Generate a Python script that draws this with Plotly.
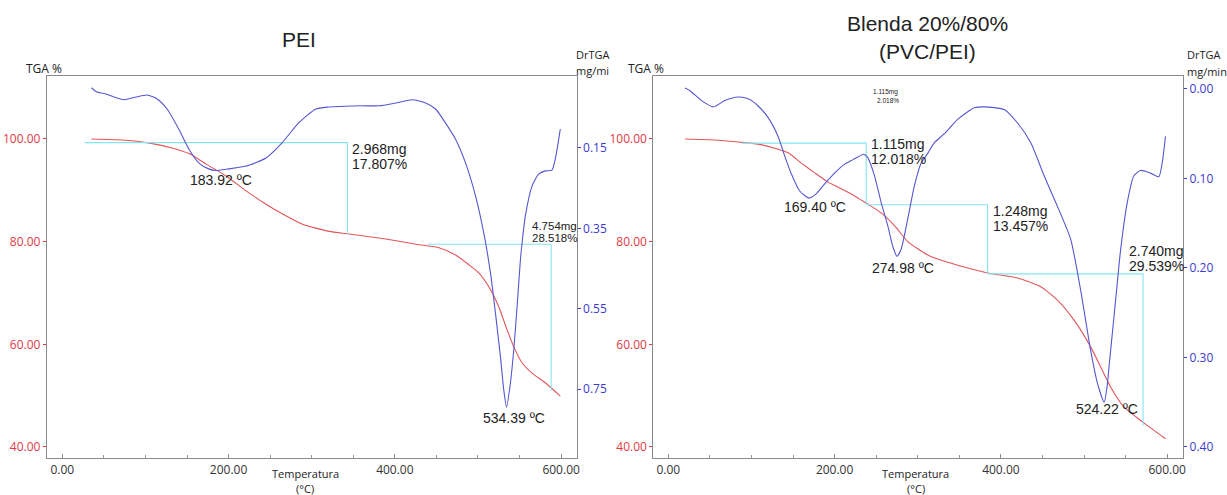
import plotly.graph_objects as go

W, H = 1227, 495

# ---------------- PEI ----------------
pei_tga_temp = [35, 73, 105, 133, 153, 173, 197, 221, 245, 265, 289, 321, 345, 389,
                429, 453, 473, 489, 501, 513, 525, 535, 543, 553, 565, 581, 599]
pei_tga = [100.0, 99.8, 99.2, 98.2, 97.1, 95.1, 92.8, 89.9, 87.3, 85.4, 83.4, 82.0, 81.5, 80.5,
           79.4, 78.8, 77.4, 75.5, 73.9, 71.2, 67.3, 62.8, 59.5, 56.4, 54.4, 52.5, 49.9]

pei_dtg_temp = [35, 41, 53, 74, 89, 102, 114, 126, 140, 152, 164, 176, 183.92, 200, 221, 245,
                264, 284, 305, 320, 340, 361, 381, 401, 421, 437, 449, 461, 473, 485, 497,
                507, 515, 521, 527, 531, 534.39, 539, 543, 547, 551, 553, 557, 565, 573, 581,
                589, 593, 599]
pei_dtg = [0.000, 0.010, 0.016, 0.030, 0.023, 0.018, 0.028, 0.053, 0.103, 0.152, 0.187, 0.202,
           0.206, 0.202, 0.195, 0.175, 0.138, 0.088, 0.053, 0.048, 0.046, 0.045, 0.045, 0.038,
           0.030, 0.038, 0.053, 0.088, 0.128, 0.187, 0.269, 0.362, 0.461, 0.561, 0.670, 0.752,
           0.795, 0.735, 0.653, 0.546, 0.429, 0.387, 0.319, 0.245, 0.215, 0.207, 0.205, 0.177,
           0.103]
pei_peaks = [183.92, 534.39]

# weight-loss steps: start temp, end temp, starting level (%), loss (%), loss (mg)
pei_step_start = [27, 440]
pei_step_end = [343, 588]
pei_step_level = [99.3, 79.5]
pei_step_loss = [17.807, 28.518]
pei_step_mg = [2.968, 4.754]

# ---------------- Blend 20/80 PVC/PEI ----------------
bl_tga_temp = [20, 56, 84, 108, 128, 144, 160, 176, 192, 208, 224, 240, 256, 272, 288, 300,
               312, 324, 348, 384, 420, 448, 468, 488, 508, 520, 532, 548, 572, 598]
bl_tga = [100.0, 99.8, 99.4, 99.0, 98.2, 97.3, 95.3, 93.4, 91.6, 90.3, 88.9, 87.3, 85.6, 83.1,
          80.0, 78.6, 77.4, 76.6, 75.4, 73.9, 72.9, 71.2, 68.6, 64.7, 59.5, 55.6, 51.7, 47.8,
          44.7, 41.6]

bl_dtg_temp = [20, 26, 40, 54, 68, 84, 96, 108, 120, 132, 140, 148, 158, 169.40, 178, 188, 200,
               212, 220, 228, 235, 240, 248, 256, 264, 270, 274.98, 280, 288, 296, 304, 312,
               320, 332, 348, 368, 380, 404, 420, 436, 452, 468, 484, 496, 508, 516, 524.22,
               528, 530, 536, 540, 544, 552, 560, 568, 580, 590, 594, 598]
bl_dtg = [-0.001, 0.002, 0.013, 0.020, 0.013, 0.009, 0.011, 0.019, 0.032, 0.053, 0.075, 0.095,
          0.114, 0.122, 0.117, 0.106, 0.094, 0.084, 0.080, 0.076, 0.073, 0.077, 0.097, 0.127,
          0.153, 0.176, 0.187, 0.179, 0.145, 0.108, 0.083, 0.072, 0.060, 0.050, 0.034, 0.021,
          0.020, 0.023, 0.038, 0.060, 0.097, 0.131, 0.168, 0.225, 0.292, 0.328, 0.350, 0.331,
          0.311, 0.255, 0.217, 0.180, 0.127, 0.097, 0.091, 0.094, 0.098, 0.083, 0.053]
bl_peaks = [169.40, 274.98, 524.22]

bl_step_start = [88, 238, 384]
bl_step_end = [238, 384, 571]
bl_step_level = [99.2, 87.182, 73.725]
bl_step_loss = [12.018, 13.457, 29.539]
bl_step_mg = [1.115, 1.248, 2.740]

x_ticks = [0, 200, 400, 600]
tga_ticks = [40, 60, 80, 100]
pei_dtg_ticks = [0.15, 0.35, 0.55, 0.75]
bl_dtg_ticks = [0.00, 0.10, 0.20, 0.30, 0.40]

RED = "#e0555a"
RED_TXT = "#e03a46"
BLUE = "#5656cf"
BLUE_TXT = "#3b3bd0"
CYAN = "#86e4f2"
FRAME = "#8a8a8a"
TXT = "#222222"
TICK_FONT = "Open Sans, Noto Sans, sans-serif"
LBL_FONT = "Liberation Sans, Arial, sans-serif"


def px(x):
    return x / W


def py(y):
    return 1 - y / H


fig = go.Figure()


def add_panel(xa, ya_tga, ya_dtg, tga_t, tga, dtg_t, dtg, peaks, s_start, s_end, s_level,
              s_loss, s_mg, peak_shifts, step_shifts, step_fonts):
    xref = "x" if xa == 1 else f"x{xa}"
    yt = "y" if ya_tga == 1 else f"y{ya_tga}"
    yd = f"y{ya_dtg}"
    fig.add_trace(go.Scatter(x=tga_t, y=tga, mode="lines", xaxis=xref, yaxis=yt,
                             line=dict(color=RED, width=1.1, shape="spline", smoothing=0.6),
                             hoverinfo="skip", showlegend=False))
    fig.add_trace(go.Scatter(x=dtg_t, y=dtg, mode="lines", xaxis=xref, yaxis=yd,
                             line=dict(color=BLUE, width=1.1, shape="spline", smoothing=0.6),
                             hoverinfo="skip", showlegend=False))
    # stepwise weight-loss markers
    for a, b, lvl, loss in zip(s_start, s_end, s_level, s_loss):
        fig.add_trace(go.Scatter(x=[a, b, b], y=[lvl, lvl, lvl - loss], mode="lines",
                                 xaxis=xref, yaxis=yt, line=dict(color=CYAN, width=1.1),
                                 hoverinfo="skip", showlegend=False))
    for b, lvl, loss, mg, (dx, dy1, dy2), fs in zip(s_end, s_level, s_loss, s_mg,
                                                    step_shifts, step_fonts):
        fig.add_annotation(x=b, y=lvl, xref=xref, yref=yt, text=f"{mg:.3f}mg",
                           showarrow=False, xanchor="left", yanchor="middle",
                           xshift=dx, yshift=dy1, font=dict(family=LBL_FONT, size=fs, color=TXT))
        fig.add_annotation(x=b, y=lvl, xref=xref, yref=yt, text=f"{loss:.3f}%",
                           showarrow=False, xanchor="left", yanchor="middle",
                           xshift=dx, yshift=dy2, font=dict(family=LBL_FONT, size=fs, color=TXT))
    # DTG peak temperatures
    for p, (dx, dy) in zip(peaks, peak_shifts):
        v = dtg[dtg_t.index(p)]
        fig.add_annotation(x=p, y=v, xref=xref, yref=yd, text=f"{p:.2f} ºC", showarrow=False,
                           xanchor="center", yanchor="middle", xshift=dx, yshift=dy,
                           font=dict(family=LBL_FONT, size=14, color=TXT))


add_panel(1, 1, 2, pei_tga_temp, pei_tga, pei_dtg_temp, pei_dtg, pei_peaks,
          pei_step_start, pei_step_end, pei_step_level, pei_step_loss, pei_step_mg,
          peak_shifts=[(6, -10), (7, -11)],
          step_shifts=[(3, -6.5, -21.5), (-21, 18, 6)], step_fonts=[14, 11.5])
add_panel(2, 3, 4, bl_tga_temp, bl_tga, bl_dtg_temp, bl_dtg, bl_peaks,
          bl_step_start, bl_step_end, bl_step_level, bl_step_loss, bl_step_mg,
          peak_shifts=[(6, -9), (6, -12), (3, -7)],
          step_shifts=[(3, -1, -16), (3, -6.5, -21.5), (-16, 23, 8)], step_fonts=[14, 14, 14])

xdom_l = [px(47), px(578)]
xdom_r = [px(655), px(1186)]
ydom = [py(458), py(76)]

xcommon = dict(showgrid=False, zeroline=False, showline=True, linecolor=FRAME, linewidth=1.2,
               mirror=True, ticks="inside", ticklen=4, tickcolor=FRAME, tickvals=x_ticks,
               ticktext=[f"{v:.2f}" for v in x_ticks],
               tickfont=dict(family=TICK_FONT, size=12, color="#333333"),
               minor=dict(dtick=50, ticks="inside", ticklen=3, tickcolor="#999999"))
tgacommon = dict(showgrid=False, zeroline=False, showline=True, linecolor=FRAME, linewidth=1.2,
                 ticks="outside", ticklen=3, tickcolor=RED_TXT, tickvals=tga_ticks,
                 ticktext=[f"{v:.2f}" for v in tga_ticks], range=[37.85, 112.27],
                 tickfont=dict(family=TICK_FONT, size=12, color=RED_TXT), domain=ydom)
dtgcommon = dict(showgrid=False, zeroline=False, showline=True, linecolor=FRAME, linewidth=1.2,
                 side="right", ticks="outside", ticklen=3, tickcolor=BLUE_TXT,
                 tickfont=dict(family=TICK_FONT, size=12, color=BLUE_TXT))

fig.update_layout(
    width=W, height=H, margin=dict(l=0, r=0, t=0, b=0),
    paper_bgcolor="white", plot_bgcolor="white", showlegend=False,
    xaxis=dict(domain=xdom_l, range=[-18.6, 618.6], anchor="y", **xcommon),
    xaxis2=dict(domain=xdom_r, range=[-18.0, 619.2], anchor="y3", **xcommon),
    yaxis=dict(anchor="x", **tgacommon),
    yaxis2=dict(anchor="x", overlaying="y", range=[0.9217, -0.0292], tickvals=pei_dtg_ticks,
                ticktext=[f"{v:.2f}" for v in pei_dtg_ticks], **dtgcommon),
    yaxis3=dict(anchor="x2", **tgacommon),
    yaxis4=dict(anchor="x2", overlaying="y3", range=[0.4123, -0.0145], tickvals=bl_dtg_ticks,
                ticktext=[f"{v:.2f}" for v in bl_dtg_ticks], **dtgcommon),
)


def label(x, y, text, size, anchor="center", color=TXT, family=TICK_FONT):
    fig.add_annotation(x=px(x), y=py(y), xref="paper", yref="paper", text=text,
                       showarrow=False, xanchor=anchor, yanchor="middle",
                       font=dict(family=family, size=size, color=color))


# titles
label(300, 40, "PEI", 21, family=LBL_FONT)
label(930, 24, "Blenda 20%/80%", 21, family=LBL_FONT)
label(930, 51, "(PVC/PEI)", 21, family=LBL_FONT)

# axis captions
for x0 in (24, 628):
    label(x0, 68, "TGA %", 12, anchor="left")
label(575, 54, "DrTGA", 11, anchor="left")
label(575, 70, "mg/mi", 11, anchor="left")
label(1188, 54, "DrTGA", 11, anchor="left")
label(1188, 71, "mg/min", 11, anchor="left")
for xc in (306, 918):
    label(xc, 473, "Temperatura", 11)
    label(xc, 488, "(°C)", 11)

# faint duplicate step note on the blend panel
label(888, 92, f"{bl_step_mg[0]:.3f}mg", 6.5, family=LBL_FONT)
label(890, 101, "2.018%", 6.5, family=LBL_FONT)

fig.write_html("out.html")
